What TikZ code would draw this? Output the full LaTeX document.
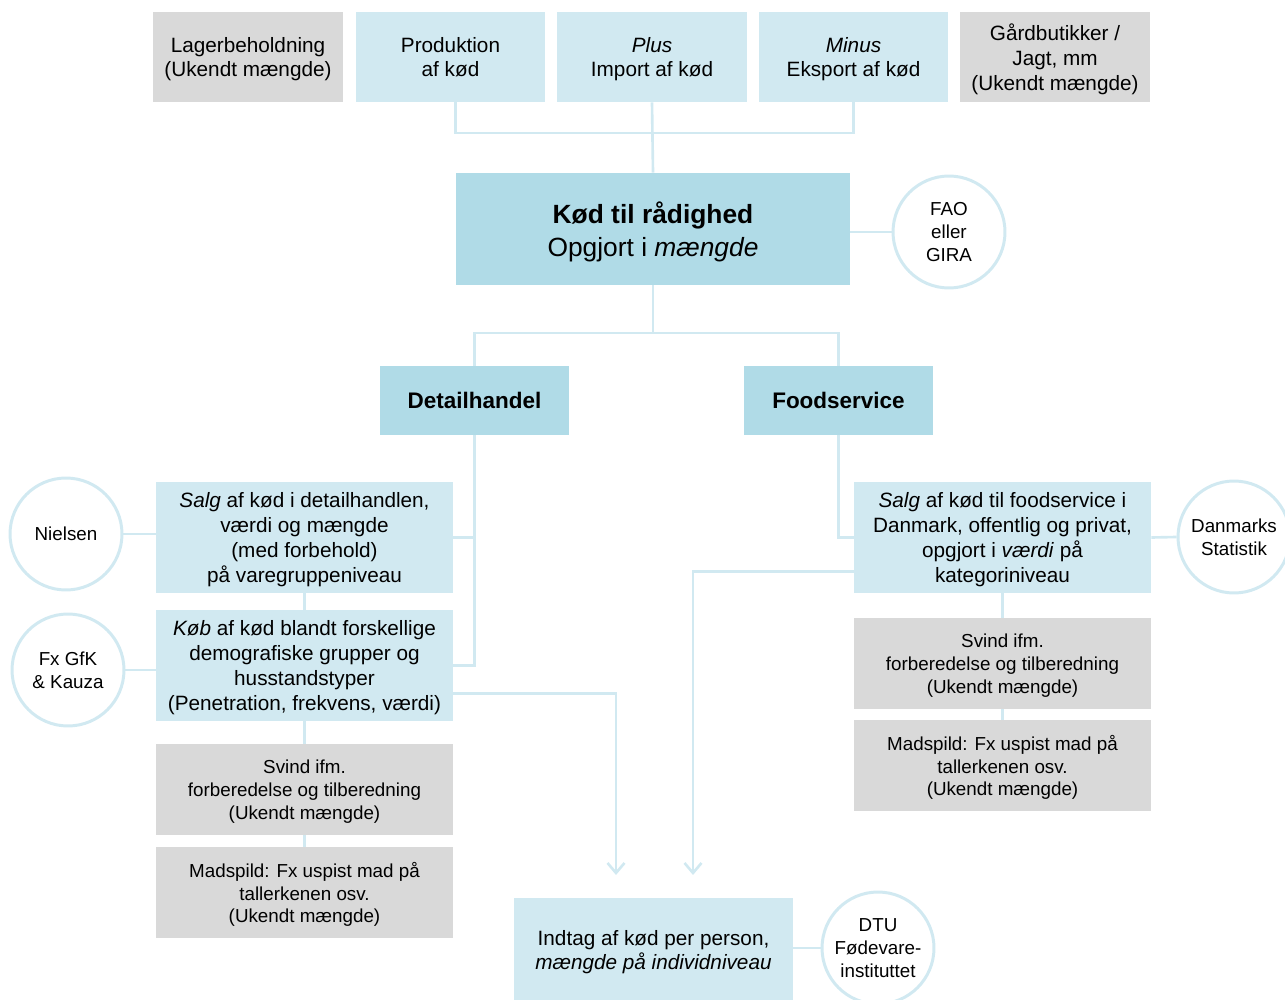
\documentclass[tikz,border=0pt]{standalone}
\usepackage{fontspec}
\setmainfont{Liberation Sans}
\usetikzlibrary{positioning, arrows.meta, calc}
\usepackage{xcolor}
\definecolor{kdlight}{HTML}{D1E9F1}
\definecolor{kddark}{HTML}{B0DBE7}
\definecolor{kdgray}{HTML}{D9D9D9}
\definecolor{kdline}{HTML}{D1E9F1}
\newcommand{\lblmain}{\fontsize{11.8}{14.2}\selectfont}
\newcommand{\lblsmall}{\fontsize{10.7}{13}\selectfont}
\newcommand{\lblhead}{\fontsize{12.8}{15}\selectfont\bfseries}
\newcommand{\lbltitle}{\fontsize{15}{18.5}\selectfont}
\tikzset{
  base/.style={inner sep=0pt, align=center, text depth=0pt},
  lightbox/.style={base, fill=kdlight, font=\lblmain},
  darkbox/.style={base, fill=kddark},
  graybox/.style={base, fill=kdgray},
  source/.style={circle, draw=kdline, line width=1.7pt, fill=white,
                 minimum size=2.24cm, inner sep=0pt, align=center, font=\lblsmall},
  link/.style={draw=kdline, line width=1.5pt},
  flow/.style={link, -{Straight Barb[length=2mm, width=3.4mm, line width=1.5pt]}}
}

\begin{document}
\begin{tikzpicture}[x=0.02cm, y=0.02cm]
  \useasboundingbox (0,0) rectangle (1285,-1000);

  % top row
  \node[graybox, font=\lblmain, minimum width=3.8cm, minimum height=1.8cm] (lager) at (248,-57)
        {Lagerbeholdning\\(Ukendt mængde)};
  \node[lightbox, minimum width=3.78cm, minimum height=1.8cm] (prod) at (450.5,-57)
        {Produktion\\af kød};
  \node[lightbox, minimum width=3.8cm, minimum height=1.8cm] (plus) at (652,-57)
        {\textit{Plus}\\Import af kød};
  \node[lightbox, minimum width=3.78cm, minimum height=1.8cm] (minus) at (853.5,-57)
        {\textit{Minus}\\Eksport af kød};
  \node[graybox, font=\lblmain, minimum width=3.8cm, minimum height=1.8cm] (gaard) at (1055,-57)
        {Gårdbutikker /\\Jagt, mm\\(Ukendt mængde)};

  % total
  \node[darkbox, font=\lbltitle, minimum width=7.88cm, minimum height=2.24cm] (kod) at (653,-229)
        {\textbf{Kød til rådighed}\\Opgjort i \textit{mængde}};
  \node[source] (fao) at (949,-232) {FAO\\eller\\GIRA};

  \coordinate (topbar) at (653,-133);
  \coordinate (midbar) at (653,-333);
  \draw[link] (prod.south -| kod.west) |- (topbar) -| (minus.south);
  \draw[link] (plus.south) -- (kod.north);
  \draw[link] (kod.east |- fao) -- (fao.west);

  % channels
  \node[darkbox, font=\lblhead, minimum width=3.78cm, minimum height=1.38cm] (detail) at (474.5,-400.5)
        {Detailhandel};
  \node[darkbox, font=\lblhead, minimum width=3.78cm, minimum height=1.38cm] (food) at (838.5,-400.5)
        {Foodservice};
  \draw[link] (kod.south) -- (midbar);
  \draw[link] (detail.north) |- (midbar) -| (food.north);

  % detailhandel column
  \node[lightbox, minimum width=5.94cm, minimum height=2.22cm] (salgd) at (304.5,-537.5)
        {\textit{Salg} af kød i detailhandlen,\\værdi og mængde\\(med forbehold)\\på varegruppeniveau};
  \node[lightbox, minimum width=5.94cm, minimum height=2.22cm] (kob) at (304.5,-665.5)
        {\textit{Køb} af kød blandt forskellige\\demografiske grupper og\\husstandstyper\\(Penetration, frekvens, værdi)};
  \node[graybox, font=\lblsmall, minimum width=5.94cm, minimum height=1.82cm] (svindd) at (304.5,-789.5)
        {Svind ifm.\\forberedelse og tilberedning\\(Ukendt mængde)};
  \node[graybox, font=\lblsmall, minimum width=5.94cm, minimum height=1.82cm] (spildd) at (304.5,-892.5)
        {Madspild: Fx uspist mad på\\tallerkenen osv.\\(Ukendt mængde)};
  \node[source] (nielsen) at (66,-534) {Nielsen};
  \node[source] (gfk) at (68,-670) {Fx GfK\\\& Kauza};

  \draw[link] (detail.south) |- (kob.east);
  \draw[link] (salgd.east) -- (salgd.east -| detail.south);
  \draw[link] (salgd.south) -- (kob.north);
  \draw[link] (kob.south) -- (svindd.north);
  \draw[link] (svindd.south) -- (spildd.north);
  \draw[link] (nielsen.east) -- (salgd.west |- nielsen.east);
  \draw[link] (gfk.east) -- (kob.west |- gfk.east);

  % foodservice column
  \node[lightbox, minimum width=5.94cm, minimum height=2.22cm] (salgf) at (1002.5,-537.5)
        {\textit{Salg} af kød til foodservice i\\Danmark, offentlig og privat,\\opgjort i \textit{værdi} på\\kategoriniveau};
  \node[graybox, font=\lblsmall, minimum width=5.94cm, minimum height=1.82cm] (svindf) at (1002.5,-663.5)
        {Svind ifm.\\forberedelse og tilberedning\\(Ukendt mængde)};
  \node[graybox, font=\lblsmall, minimum width=5.94cm, minimum height=1.82cm] (spildf) at (1002.5,-765.5)
        {Madspild: Fx uspist mad på\\tallerkenen osv.\\(Ukendt mængde)};
  \node[source] (dst) at (1234,-537) {Danmarks\\Statistik};

  \draw[link] (food.south) |- (salgf.west);
  \draw[link] (salgf.east) -- (dst.west);
  \draw[link] (salgf.south) -- (svindf.north);
  \draw[link] (svindf.south) -- (spildf.north);

  % intake
  \node[lightbox, minimum width=5.58cm, minimum height=2.1cm] (indtag) at (653.5,-950)
        {Indtag af kød per person,\\\textit{mængde på individniveau}};
  \node[source] (dtu) at (878,-948) {DTU\\Fødevare-\\instituttet};
  \draw[link] (indtag.east |- dtu) -- (dtu.west);

  \coordinate (inleft) at (616,-875);
  \coordinate (inright) at (693,-875);
  \draw[flow] ($(kob.east)+(0,-28)$) -| (inleft);
  \draw[flow] ($(salgf.west)+(0,-34)$) -| (inright);
\end{tikzpicture}
\end{document}
